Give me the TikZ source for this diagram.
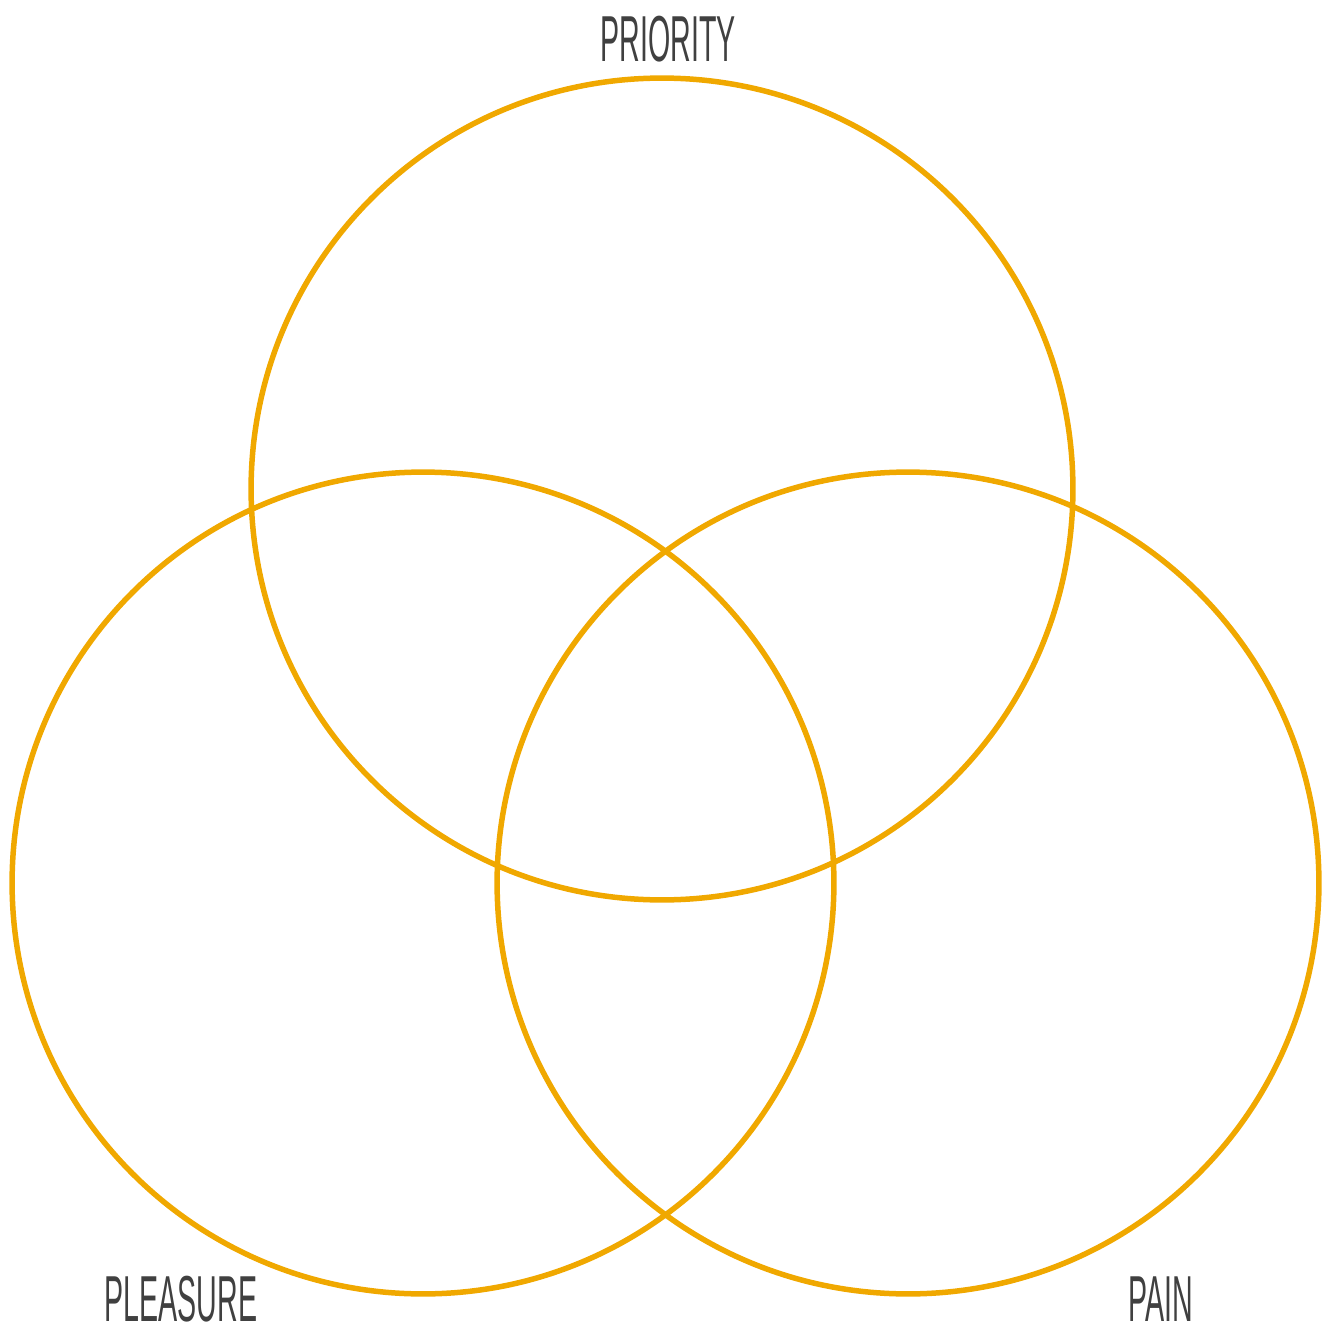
\documentclass[tikz,border=0pt]{standalone}
\usepackage{fontspec}
\setmainfont{Liberation Sans}
\usepackage{xcolor}
\usepackage{tikz}
\usetikzlibrary{positioning}
\definecolor{VennGold}{RGB}{240,168,0}
\definecolor{LabelGray}{RGB}{64,64,64}
\newcommand{\condensed}[1]{\scalebox{0.44}[1]{#1}}

\begin{document}
\begin{tikzpicture}[x=0.02cm, y=-0.02cm,
		ring/.style={line width=0.11cm, draw=VennGold},
		setlabel/.style={anchor=base, inner sep=0pt, text=LabelGray, font=\fontsize{37}{37}\selectfont}]
			\useasboundingbox (0,0) rectangle (1325,1327);
			\coordinate (Top) at (662,489);
			\coordinate (Left) at (423,883);
			\coordinate (Right) at (908,883);
			\draw[ring] (Top) circle[radius=8.22cm];
			\draw[ring] (Left) circle[radius=8.22cm];
			\draw[ring] (Right) circle[radius=8.22cm];
			\node[setlabel] (priority) at (668,62) {\condensed{PRIORITY}};
			\node[setlabel] (pleasure) at (181,1321) {\condensed{PLEASURE}};
			\node[setlabel] (pain) at (1161,1321) {\condensed{PAIN}};
		\end{tikzpicture}
\end{document}
